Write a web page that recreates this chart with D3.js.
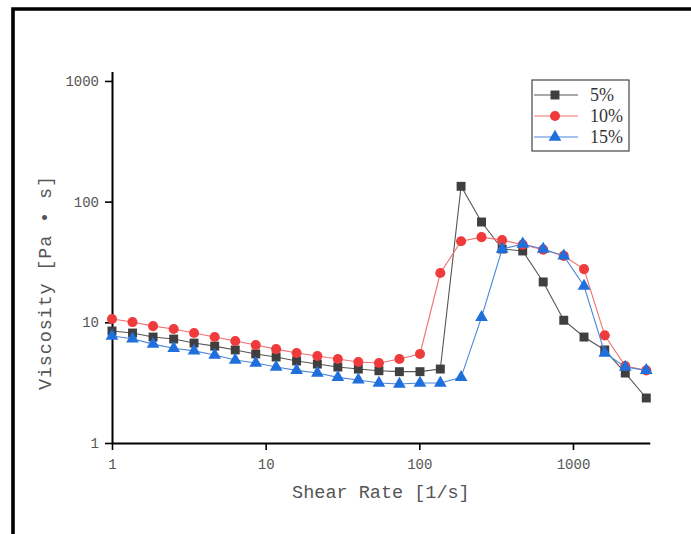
<!DOCTYPE html>
<html>
<head>
<meta charset="utf-8">
<script src="https://cdn.jsdelivr.net/npm/d3@7"></script>
<style>
  body { margin: 0; background: #fff; }
  svg { display: block; }
</style>
</head>
<body>
<div class="visuals"></div>
<script>
// shear rate points (1/s), same for all three samples
const shearRate = [1, 1.36, 1.85, 2.52, 3.42, 4.66, 6.34, 8.62, 11.7, 15.9, 21.7, 29.5, 40.1,
  54.6, 74.2, 101, 137, 187, 254, 346, 471, 640, 871, 1180, 1610, 2190, 3000];

// viscosity (Pa·s)
const visc5 = [8.47, 8.15, 7.55, 7.27, 6.73, 6.35, 5.9, 5.47, 5.16, 4.78, 4.51, 4.26, 4.1,
  3.97, 3.9, 3.9, 4.1, 134, 67.8, 40.5, 39, 21.6, 10.4, 7.55, 5.9, 3.8, 2.36];
const visc10 = [10.65, 10.05, 9.3, 8.8, 8.15, 7.55, 7.0, 6.48, 6.0, 5.57, 5.26, 4.97, 4.69,
  4.6, 4.97, 5.47, 25.6, 47, 50.8, 48, 44, 40, 35.5, 27.6, 7.8, 4.35, 4.0];
const visc15 = [7.7, 7.3, 6.6, 6.1, 5.8, 5.36, 4.87, 4.6, 4.26, 4.0, 3.8, 3.5, 3.33,
  3.14, 3.08, 3.14, 3.14, 3.5, 11.0, 40.5, 44.6, 40.5, 35.5, 20, 5.57, 4.26, 4.0];

const seriesNames = ["5%", "10%", "15%"];
const xMajorTicks = [1, 10, 100, 1000];
const yMajorTicks = [1, 10, 100, 1000];

const width = 691, height = 534;

const series = [
  { name: seriesNames[0], values: visc5, color: "#3f3f3f", line: "#555", symbol: d3.symbolSquare, size: 80 },
  { name: seriesNames[1], values: visc10, color: "#ef3b3b", line: "#f07070", symbol: d3.symbolCircle, size: 80 },
  { name: seriesNames[2], values: visc15, color: "#1f6fdc", line: "#4a86dd", symbol: d3.symbolTriangle, size: 70 }
];

const svg = d3.select(".visuals")
  .append("svg")
  .attr("width", width)
  .attr("height", height);

// outer frame (only top and left show in the picture)
svg.append("path")
  .attr("d", "M13,534V9H691")
  .attr("fill", "none")
  .attr("stroke", "#000")
  .attr("stroke-width", 3.6);

const x = d3.scaleLog().domain([1, 3162]).range([112, 649.8]);
const y = d3.scaleLog().domain([1, 1200]).range([443, 71.4]);

// minor ticks 2..9 of each decade
const minors = (lo, hi) => {
  let out = [];
  for (let d = lo; d < hi; d *= 10)
    for (let k = 2; k <= 9; k++) if (d * k <= hi) out.push(d * k);
  return out;
};

const tickFont = "'Liberation Mono', 'DejaVu Sans Mono', monospace";

// x axis
const gx = svg.append("g").attr("id", "x-axis").attr("transform", "translate(0,443)");
gx.call(d3.axisBottom(x).tickValues(minors(1, 3162)).tickFormat("").tickSize(4).tickSizeOuter(0));
gx.call(d3.axisBottom(x).tickValues(xMajorTicks).tickFormat(d3.format("d")).tickSize(7).tickSizeOuter(0).tickPadding(9));

// y axis
const gy = svg.append("g").attr("id", "y-axis").attr("transform", "translate(112,0)");
gy.call(d3.axisLeft(y).tickValues(minors(1, 1200)).tickFormat("").tickSize(4.5).tickSizeOuter(0));
gy.call(d3.axisLeft(y).tickValues(yMajorTicks).tickFormat(d3.format("d")).tickSize(7).tickSizeOuter(0).tickPadding(6));

svg.selectAll("#x-axis path, #y-axis path").attr("stroke", "#000").attr("stroke-width", 2);
svg.selectAll("#x-axis line, #y-axis line").attr("stroke", "#000").attr("stroke-width", 1.6);
svg.selectAll(".tick text")
  .attr("font-family", tickFont)
  .attr("font-size", 14)
  .attr("fill", "#555");

// axis titles
svg.append("text")
  .attr("x", (x.range()[0] + x.range()[1]) / 2)
  .attr("y", 498)
  .attr("text-anchor", "middle")
  .attr("font-family", tickFont)
  .attr("font-size", 18.5)
  .attr("fill", "#555")
  .text("Shear Rate [1/s]");

svg.append("text")
  .attr("transform", "translate(51,283) rotate(-90)")
  .attr("text-anchor", "middle")
  .attr("font-family", tickFont)
  .attr("font-size", 18.5)
  .attr("fill", "#555")
  .attr("textLength", 214)
  .attr("lengthAdjust", "spacing")
  .text("Viscosity [Pa • s]");

// series
const line = d3.line()
  .x((d, i) => x(shearRate[i]))
  .y(d => y(d));

series.forEach(s => {
  const g = svg.append("g").attr("class", "series");
  g.append("path")
    .datum(s.values)
    .attr("d", line)
    .attr("fill", "none")
    .attr("stroke", s.line)
    .attr("stroke-width", 1.1);
  g.selectAll("path.pt")
    .data(s.values)
    .enter()
    .append("path")
    .attr("class", "pt")
    .attr("d", d3.symbol().type(s.symbol).size(s.size))
    .attr("transform", (d, i) => `translate(${x(shearRate[i])},${y(d)})`)
    .attr("fill", s.color);
});

// legend
const lg = svg.append("g").attr("transform", "translate(532,80)");
lg.append("rect")
  .attr("x", 0).attr("y", 0)
  .attr("width", 97).attr("height", 71)
  .attr("fill", "#fff")
  .attr("stroke", "#444")
  .attr("stroke-width", 1.2);

series.forEach((s, i) => {
  const row = lg.append("g").attr("transform", `translate(0,${15 + i * 21})`);
  row.append("line")
    .attr("x1", 2).attr("x2", 46)
    .attr("stroke", s.line).attr("stroke-width", 1.1);
  row.append("path")
    .attr("d", d3.symbol().type(s.symbol).size(s.size))
    .attr("transform", "translate(23,0)")
    .attr("fill", s.color);
  row.append("text")
    .attr("x", 58)
    .attr("y", 6)
    .attr("font-family", "'Liberation Serif', 'DejaVu Serif', serif")
    .attr("font-size", 18)
    .attr("fill", "#333")
    .text(s.name);
});
</script>
</body>
</html>
